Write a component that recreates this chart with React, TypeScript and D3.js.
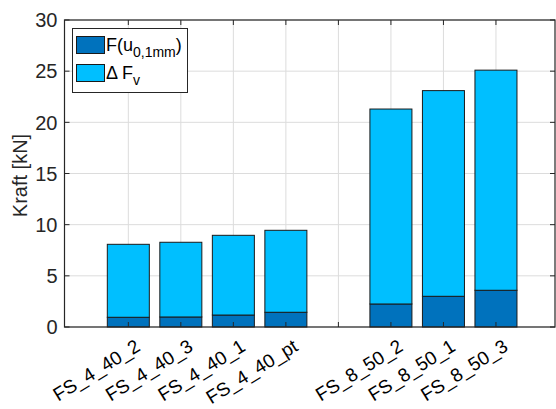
import React from "react";
import * as d3 from "d3";

const categories = ["FS_4_40_2", "FS_4_40_3", "FS_4_40_1", "FS_4_40_pt", "", "FS_8_50_2", "FS_8_50_1", "FS_8_50_3"];
const positions = [1, 2, 3, 4, 6, 7, 8];
const barNames = ["FS_4_40_2", "FS_4_40_3", "FS_4_40_1", "FS_4_40_pt", "FS_8_50_2", "FS_8_50_1", "FS_8_50_3"];
const fU = [0.95, 0.98, 1.17, 1.44, 2.25, 3.0, 3.59];
const totals = [8.08, 8.28, 8.96, 9.45, 21.3, 23.1, 25.1];
const deltaF = totals.map((t, i) => t - fU[i]);
const yTicks = [0, 5, 10, 15, 20, 25, 30];

const W = 556, H = 409;
const L = 64.5, R = 555, T = 20, B = 327;
const FONT = "'Liberation Sans', Arial, Helvetica, sans-serif";
const DARK = "#0072BD";
const LIGHT = "#00BFFF";

export default function App() {
  const x = d3.scaleLinear().domain([-0.215, 9.124]).range([L, R]);
  const y = d3.scaleLinear().domain([0, 30]).range([B, T]);
  const bw = (x(2) - x(1)) * 0.8;
  const stack = d3.stack<number>().keys(["f", "d"]).value((i, k) => (k === "f" ? fU[i] : deltaF[i]));
  const series = stack(d3.range(fU.length));
  const colors = [DARK, LIGHT];
  const xt = d3.range(1, 9);
  return (
    <svg width={W} height={H} style={{ position: "absolute", left: 0, top: 0, fontFamily: FONT }}>
      <rect x={0} y={0} width={W} height={H} fill="#fff" />
      {/* grid */}
      {xt.map((t) => (
        <line key={"gx" + t} x1={x(t)} x2={x(t)} y1={T} y2={B} stroke="#dcdcdc" strokeWidth={1} />
      ))}
      {yTicks.map((t) => (
        <line key={"gy" + t} x1={L} x2={R} y1={y(t)} y2={y(t)} stroke="#dcdcdc" strokeWidth={1} />
      ))}
      {/* bars */}
      {series.map((s, si) =>
        s.map((d, i) => (
          <rect
            key={si + "-" + i}
            x={x(positions[i]) - bw / 2}
            y={y(d[1])}
            width={bw}
            height={y(d[0]) - y(d[1])}
            fill={colors[si]}
            stroke="#1a1a1a"
            strokeWidth={1}
          />
        ))
      )}
      {/* axes box */}
      <rect x={L} y={T} width={R - L} height={B - T} fill="none" stroke="#262626" strokeWidth={1.2} />
      {xt.map((t) => (
        <g key={"tx" + t}>
          <line x1={x(t)} x2={x(t)} y1={B} y2={B - 5} stroke="#262626" />
          <line x1={x(t)} x2={x(t)} y1={T} y2={T + 5} stroke="#262626" />
        </g>
      ))}
      {yTicks.map((t) => (
        <g key={"ty" + t}>
          <line x1={L} x2={L + 5} y1={y(t)} y2={y(t)} stroke="#262626" />
          <line x1={R} x2={R - 5} y1={y(t)} y2={y(t)} stroke="#262626" />
          <text x={L - 7} y={y(t)} dy="0.36em" textAnchor="end" fontSize={20} fill="#262626">
            {t}
          </text>
        </g>
      ))}
      {categories.map((c, i) =>
        c ? (
          <text
            key={"xl" + i}
            transform={`translate(${x(i + 1) + 6},${B + 11}) rotate(-32)`}
            textAnchor="end"
            dy="0.72em"
            fontSize={19}
            fill="#000"
          >
            {c}
          </text>
        ) : null
      )}
      <text transform={`translate(${27},${(T + B) / 2 + 2}) rotate(-90)`} textAnchor="middle" fontSize={20} fill="#262626">
        Kraft [kN]
      </text>
      {/* legend */}
      <g>
        <rect x={72.5} y={28.5} width={115} height={64} fill="#fff" stroke="#262626" strokeWidth={1} />
        <rect x={76.5} y={36.5} width={28} height={17} fill={DARK} stroke="#1a1a1a" />
        <rect x={76.5} y={64.5} width={28} height={17} fill={LIGHT} stroke="#1a1a1a" />
        <text x={106} y={51} fontSize={18} fill="#000">
          F(u<tspan fontSize={14} dy={6}>0,1mm</tspan>
          <tspan dy={-6}>)</tspan>
        </text>
        <text x={106} y={79} fontSize={18} fill="#000">
          Δ F<tspan fontSize={14} dy={6}>v</tspan>
        </text>
      </g>
    </svg>
  );
}
